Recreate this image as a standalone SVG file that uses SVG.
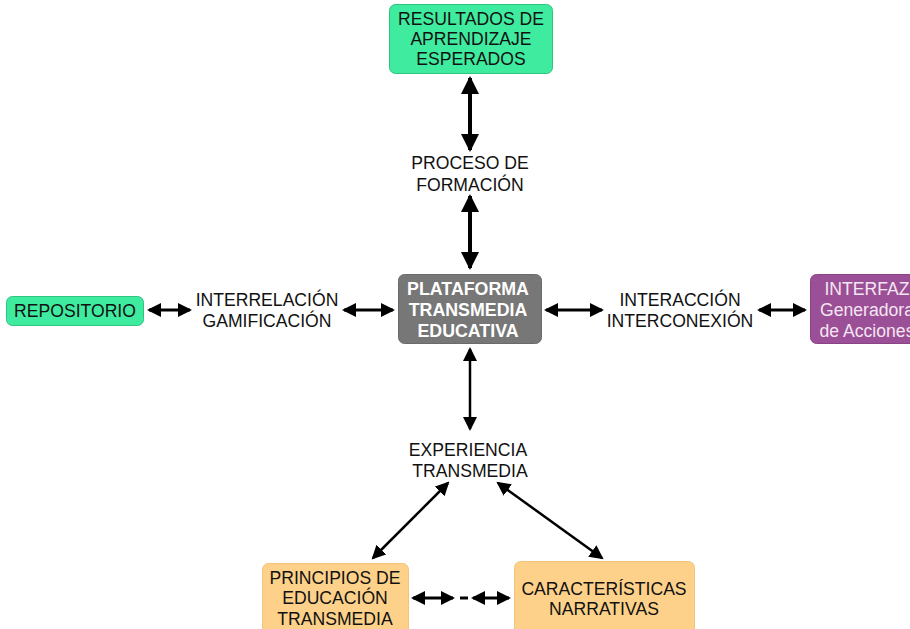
<svg xmlns="http://www.w3.org/2000/svg" width="910" height="629" viewBox="0 0 910 629">
  <style>
    text { font-family: "Liberation Sans", Arial, sans-serif; font-size: 17.6px; text-anchor: middle; fill: #111; }
    .green { fill: #3fec9f; stroke: #2cc47f; stroke-width: 1; }
    .gray { fill: #777777; stroke: #6a6a6a; stroke-width: 1; }
    .purple { fill: #9b4f96; stroke: #8a4486; stroke-width: 1; }
    .orange { fill: #fdd18a; stroke: #f3c47a; stroke-width: 1; }
    .bold { font-weight: bold; font-size: 17.8px; fill: #ffffff; }
    .light { fill: #f4e6f2; }
    .heavy { stroke: #000; stroke-width: 4; fill: none; }
    .mid { stroke: #000; stroke-width: 3; fill: none; }
    .thin { stroke: #000; stroke-width: 2.5; fill: none; }
  </style>
  <defs>
    <marker id="bigHead" markerUnits="userSpaceOnUse" markerWidth="20" markerHeight="20" refX="16" refY="9" orient="auto-start-reverse">
      <path d="M0,0 L18,9 L0,18 Z" fill="#000"/>
    </marker>
    <marker id="head" markerUnits="userSpaceOnUse" markerWidth="16" markerHeight="16" refX="12" refY="7" orient="auto-start-reverse">
      <path d="M0,0 L14,7 L0,14 Z" fill="#000"/>
    </marker>
  </defs>

  <g id="connectors">
    <line class="heavy" x1="470" y1="78" x2="470" y2="150" marker-start="url(#bigHead)" marker-end="url(#bigHead)"/>
    <line class="heavy" x1="470" y1="196" x2="470" y2="268" marker-start="url(#bigHead)" marker-end="url(#bigHead)"/>
    <line class="mid" x1="149" y1="310" x2="190" y2="310" marker-start="url(#head)" marker-end="url(#head)"/>
    <line class="mid" x1="344" y1="310" x2="393" y2="310" marker-start="url(#head)" marker-end="url(#head)"/>
    <line class="mid" x1="546" y1="310" x2="602" y2="310" marker-start="url(#head)" marker-end="url(#head)"/>
    <line class="mid" x1="759" y1="310" x2="805" y2="310" marker-start="url(#head)" marker-end="url(#head)"/>
    <line class="thin" x1="470" y1="349" x2="470" y2="429" marker-start="url(#head)" marker-end="url(#head)"/>
    <line class="thin" x1="448" y1="483" x2="373" y2="558" marker-start="url(#head)" marker-end="url(#head)"/>
    <line class="thin" x1="498" y1="483" x2="602" y2="558" marker-start="url(#head)" marker-end="url(#head)"/>
    <line class="mid" x1="413" y1="598" x2="453" y2="598" marker-start="url(#head)" marker-end="url(#head)"/>
    <line class="mid" x1="460" y1="598" x2="468" y2="598"/>
    <line class="mid" x1="473" y1="598" x2="509" y2="598" marker-start="url(#head)" marker-end="url(#head)"/>
  </g>

  <g id="resultados">
    <rect class="green" x="389.5" y="4.5" width="163" height="69" rx="6"/>
    <text x="471" y="25">RESULTADOS DE</text>
    <text x="471" y="45">APRENDIZAJE</text>
    <text x="471" y="65">ESPERADOS</text>
  </g>

  <g id="proceso">
    <text x="470" y="169">PROCESO DE</text>
    <text x="470" y="191">FORMACIÓN</text>
  </g>

  <g id="plataforma">
    <rect class="gray" x="398.5" y="274.5" width="143" height="69" rx="6"/>
    <text class="bold" x="468" y="295">PLATAFORMA</text>
    <text class="bold" x="468" y="316">TRANSMEDIA</text>
    <text class="bold" x="468" y="337">EDUCATIVA</text>
  </g>

  <g id="repositorio">
    <rect class="green" x="6.5" y="296.5" width="137" height="29" rx="6"/>
    <text x="75" y="317">REPOSITORIO</text>
  </g>

  <g id="interrelacion">
    <text x="267" y="306">INTERRELACIÓN</text>
    <text x="267" y="327">GAMIFICACIÓN</text>
  </g>

  <g id="interaccion">
    <text x="680" y="306">INTERACCIÓN</text>
    <text x="680" y="327">INTERCONEXIÓN</text>
  </g>

  <g id="interfaz">
    <rect class="purple" x="810.5" y="274.5" width="112" height="69" rx="6"/>
    <text class="light" x="867" y="295">INTERFAZ</text>
    <text class="light" x="867" y="316">Generadora</text>
    <text class="light" x="867" y="337">de Acciones</text>
  </g>

  <g id="experiencia">
    <text x="468" y="456">EXPERIENCIA</text>
    <text x="470" y="477">TRANSMEDIA</text>
  </g>

  <g id="principios">
    <rect class="orange" x="262.5" y="563.5" width="146" height="80" rx="6"/>
    <text x="335" y="584">PRINCIPIOS DE</text>
    <text x="335" y="604">EDUCACIÓN</text>
    <text x="335" y="625">TRANSMEDIA</text>
  </g>

  <g id="caracteristicas">
    <rect class="orange" x="514.5" y="561.5" width="180" height="80" rx="6"/>
    <text x="604" y="595">CARACTERÍSTICAS</text>
    <text x="604" y="615">NARRATIVAS</text>
  </g>
</svg>
